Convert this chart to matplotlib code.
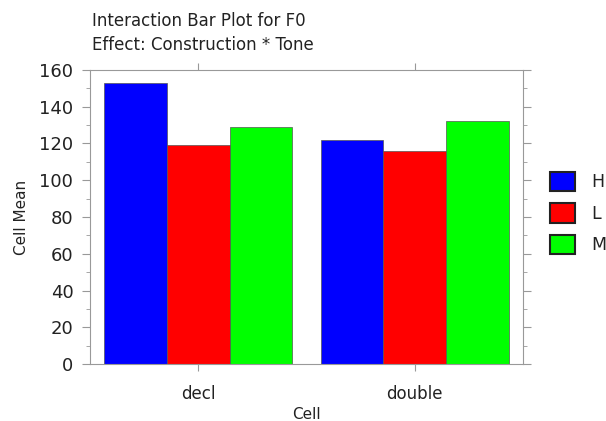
"""
Interaction bar plot: F0 cell means by Construction * Tone
"""

import numpy as np
import matplotlib
matplotlib.use('Agg')
import matplotlib.pyplot as plt
from matplotlib.ticker import MultipleLocator

plt.rcParams['font.family'] = ['DejaVu Sans']

# data
constructions = ['decl', 'double']
tones = ['H', 'L', 'M']
h_means = [153, 122]
l_means = [119, 116]
m_means = [129, 132]
colors = ['#0000ff', '#ff0000', '#00ff00']

fig = plt.figure(figsize=(6.06, 4.21), dpi=100)
ax = fig.add_axes([90 / 606, 57 / 421, 433 / 606, 294 / 421])

x = np.arange(len(constructions))
width = 0.29
for i, (vals, tone) in enumerate(zip([h_means, l_means, m_means], tones)):
    ax.bar(x + (i - 1) * width, vals, width, color=colors[i], label=tone,
           edgecolor='#555555', linewidth=0.5)

ax.set_xlim(-0.5, 1.5)
ax.set_ylim(0, 160)
ax.set_xticks(x)
ax.set_xticklabels(constructions, fontsize=12, color='#222222')
ax.yaxis.set_major_locator(MultipleLocator(20))
ax.yaxis.set_minor_locator(MultipleLocator(10))
ax.tick_params(axis='y', which='both', labelsize=13, labelcolor='#222222',
               right=True, color='#999999', pad=6)
ax.tick_params(axis='y', which='major', length=6)
ax.tick_params(axis='y', which='minor', length=3)
ax.tick_params(axis='x', top=True, color='#999999', length=5, pad=10)
for sp in ax.spines.values():
    sp.set_color('#999999')

ax.set_xlabel('Cell', fontsize=11, labelpad=3, color='#222222')
ax.set_ylabel('Cell Mean', fontsize=11, labelpad=7, color='#222222')

fig.text(92 / 606, 1 - 12 / 421, 'Interaction Bar Plot for F0\nEffect: Construction * Tone',
         fontsize=12, ha='left', va='top', linespacing=1.45, color='#222222')

leg = ax.legend(loc='center left', bbox_to_anchor=(550 / 606, 1 - 213 / 421),
                bbox_transform=fig.transFigure, frameon=False, fontsize=12.5,
                borderpad=0, borderaxespad=0, handlelength=1.45, handleheight=1.35,
                labelspacing=0.68, handletextpad=0.9)
for p in leg.get_patches():
    p.set_edgecolor('#222222')
    p.set_linewidth(1.5)
for t in leg.get_texts():
    t.set_color('#222222')

plt.savefig('out.png')
